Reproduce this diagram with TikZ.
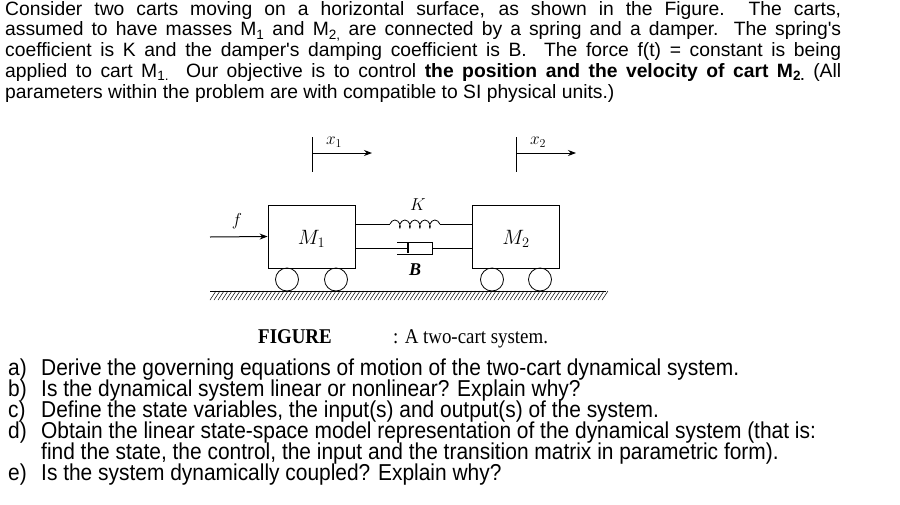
\documentclass[tikz,border=0pt]{standalone}
\usepackage{fontspec}
\setmainfont{Liberation Serif}
\newfontfamily\arialf{Liberation Sans}
\newfontfamily\narrowf[FakeStretch=0.91]{Liberation Sans}
\newfontfamily\capf[FakeStretch=0.9]{Liberation Serif}
\usetikzlibrary{decorations.pathmorphing,arrows.meta}
\begin{document}
\begin{tikzpicture}[x=1pt,y=-1pt,
  body/.style={draw,line width=0.8pt,minimum width=87pt,minimum height=63pt,inner sep=0pt},
  wheel/.style={draw,line width=0.8pt,circle,minimum size=23pt,inner sep=0pt},
  ln/.style={line width=0.8pt},
  arr/.style={line width=1pt,-{Stealth[length=8pt,width=6pt]}},
  lbl/.style={font=\fontsize{20}{20}\selectfont\itshape,inner sep=0pt},
  item/.style={anchor=base west,inner sep=0pt,font=\narrowf\fontsize{23}{20}\selectfont}]
\useasboundingbox (0,0) rectangle (900,504);
% paragraph
\node[anchor=north west,inner sep=0pt] (para) at (5,1) {\parbox{836pt}{\arialf\fontsize{19.3}{20.8}\selectfont
Consider two carts moving on a horizontal surface, as shown in the Figure.\ \ The carts,\linebreak
assumed to have masses M\textsubscript{1} and M\textsubscript{2,} are connected by a spring and a damper. The spring's\linebreak
coefficient is K and the damper's damping coefficient is B.\ \ The force f(t) = constant is being\linebreak
applied to cart M\textsubscript{1.}\ \ Our objective is to control \textbf{the position and the velocity of cart M\textsubscript{2.}} (All\linebreak
parameters within the problem are with compatible to SI physical units.)}};
% carts
\node[body] (m1) at (311.5,236.5) {};
\node[body] (m2) at (516,236.5) {};
\node[lbl] (m1l) at (311.5,239) {$M_1$};
\node[lbl] (m2l) at (516,239) {$M_2$};
\node[wheel] (w1) at (287,279.5) {};
\node[wheel] (w2) at (336,279.5) {};
\node[wheel] (w3) at (492,279.5) {};
\node[wheel] (w4) at (540,279.5) {};
% ground
\coordinate (g1) at (210,291);
\coordinate (g2) at (606,291);
\draw[ln] (g1) -- (g2);
\foreach \i in {0,4,...,392} \draw[line width=0.5pt] (210+\i,300) -- (216+\i,291);
% spring
\coordinate (s1) at (355,224);
\coordinate (s2) at (390,224);
\coordinate (s3) at (440,224);
\coordinate (s4) at (473,224);
\draw[ln] (s1) -- (s2);
\draw[ln,decorate,decoration={coil,aspect=0.6,segment length=10pt,amplitude=4pt,pre length=0pt,post length=0pt}] (s2) -- (s3);
\draw[ln] (s3) -- (s4);
\node[lbl,font=\fontsize{18}{18}\selectfont] (K) at (418,205) {$K$};
% damper
\coordinate (d1) at (355,248);
\coordinate (d2) at (408,248);
\coordinate (d3) at (432,248);
\coordinate (d4) at (473,248);
\draw[ln] (d1) -- (d2);
\draw[line width=1.3pt] (408,243) -- (408,253);
\draw[ln] (397,242) -- (432,242) -- (432,254) -- (397,254);
\draw[ln] (d3) -- (d4);
\node[lbl,font=\fontsize{18}{18}\selectfont\bfseries\itshape] (B) at (415,270) {B};
% force
\coordinate (f0) at (210,237);
\draw[arr] (f0) -- (m1.west);
\node[lbl,font=\fontsize{18}{18}\selectfont] (f) at (237,221) {$f$};
% displacements
\coordinate (t1a) at (312,137); \coordinate (t1b) at (312,172);
\draw[line width=0.7pt] (t1a) -- (t1b);
\coordinate (a1) at (312,153); \coordinate (a1e) at (372,153);
\draw[arr] (a1) -- (a1e);
\node[lbl,font=\fontsize{17}{17}\selectfont] (x1) at (334,142) {$x_1$};
\coordinate (t2a) at (516,137); \coordinate (t2b) at (516,172);
\draw[line width=0.7pt] (t2a) -- (t2b);
\coordinate (a2) at (516,153); \coordinate (a2e) at (576,153);
\draw[arr] (a2) -- (a2e);
\node[lbl,font=\fontsize{17}{17}\selectfont] (x2) at (538,142) {$x_2$};
% caption
\node[anchor=base west,inner sep=0pt,font=\capf\fontsize{21}{21}\selectfont\bfseries] (cap) at (258,343) {FIGURE};
\node[anchor=base west,inner sep=0pt,font=\capf\fontsize{21}{21}\selectfont] (cap2) at (393,343) {: A two-cart system.};
% items
\foreach \y/\l/\t in {375/a)/{Derive the governing equations of motion of the two-cart dynamical system.},
  396/b)/{Is the dynamical system linear or nonlinear? Explain why?},
  417/c)/{Define the state variables, the input(s) and output(s) of the system.},
  438/d)/{Obtain the linear state-space model representation of the dynamical system (that is:},
  459/{}/{find the state, the control, the input and the transition matrix in parametric form).},
  480/e)/{Is the system dynamically coupled? Explain why?}}
{ \node[item] (l\y) at (8,\y) {\l}; \node[item] (t\y) at (41,\y) {\t}; }
\end{tikzpicture}
\end{document}
